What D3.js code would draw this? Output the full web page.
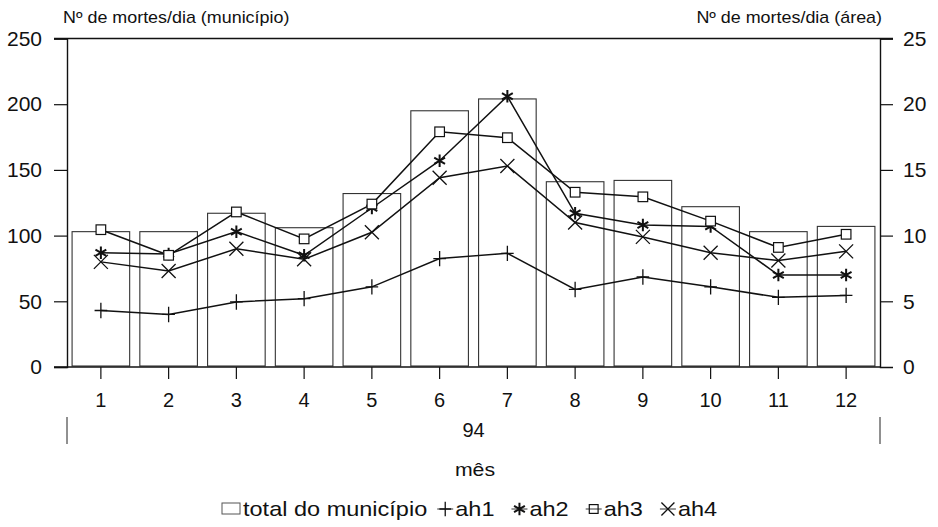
<!DOCTYPE html>
<html>
<head>
<meta charset="utf-8">
<script src="https://cdn.jsdelivr.net/npm/d3@7"></script>
<style>
  html, body { margin: 0; padding: 0; background: #fff; }
  svg { display: block; font-family: "Liberation Sans", Arial, Helvetica, sans-serif; }
</style>
</head>
<body>
<svg id="chart" width="938" height="527"></svg>
<script>
// ---- data ----
const months = ["1","2","3","4","5","6","7","8","9","10","11","12"];
const yearLabel = "94";
const totalMunicipio = [103, 103, 117, 106, 132, 195, 204, 141, 142, 122, 103, 107];
const ah1 = [4.3, 4.0, 4.95, 5.2, 6.1, 8.25, 8.65, 5.9, 6.85, 6.1, 5.3, 5.45];
const ah2 = [8.7, 8.6, 10.3, 8.5, 12.1, 15.7, 20.6, 11.7, 10.8, 10.7, 7.0, 7.0];
const ah3 = [10.45, 8.5, 11.8, 9.75, 12.4, 17.9, 17.45, 13.3, 12.95, 11.1, 9.1, 10.1];
const ah4 = [8.0, 7.3, 9.0, 8.2, 10.25, 14.4, 15.3, 11.0, 9.9, 8.7, 8.1, 8.8];
const leftTicks = [0, 50, 100, 150, 200, 250];
const rightTicks = [0, 5, 10, 15, 20, 25];
const seriesNames = ["ah1", "ah2", "ah3", "ah4"];
const barLegend = "total do município";
const leftTitle = "Nº de mortes/dia (município)";
const rightTitle = "Nº de mortes/dia (área)";
const xTitle = "mês";

// ---- layout ----
const svg = d3.select("#chart");
const L = 67, R = 880, B = 367, T = 38.5;
const STRETCH = 1.12;

const x = d3.scaleBand().domain(months).range([L, R]).paddingInner(0.15).paddingOuter(0.075);
const yL = d3.scaleLinear().domain([0, 250]).range([B, T]);
const yR = d3.scaleLinear().domain([0, 25]).range([B, T]);

function stext(g, px, py, str, size, anchor) {
  return g.append("text")
    .attr("transform", `translate(${px},${py}) scale(${STRETCH},1)`)
    .attr("text-anchor", anchor || "start")
    .attr("font-size", size)
    .attr("fill", "#111")
    .text(str);
}

// ---- bars ----
svg.append("g").selectAll("rect").data(months).join("rect")
  .attr("x", d => x(d))
  .attr("width", x.bandwidth())
  .attr("y", (d, i) => yL(totalMunicipio[i]))
  .attr("height", (d, i) => yL(0) - 1 - yL(totalMunicipio[i]))
  .attr("fill", "#fff")
  .attr("stroke", "#333")
  .attr("stroke-width", 1.1);

// ---- frame lines ----
svg.append("line").attr("x1", 54).attr("x2", 893).attr("y1", T).attr("y2", T)
  .attr("stroke", "#111").attr("stroke-width", 1.4);

// ---- left axis ----
const gL = svg.append("g").attr("transform", `translate(${L},0)`)
  .call(d3.axisLeft(yL).tickValues(leftTicks).tickSize(13).tickPadding(12));
gL.select(".domain").attr("stroke", "#111").attr("stroke-width", 1.4);
gL.selectAll(".tick line").attr("stroke", "#111").attr("stroke-width", 1.2);
gL.selectAll(".tick text").attr("font-size", 21).attr("fill", "#111")
  .attr("font-family", "Liberation Sans, Arial, sans-serif");

// ---- right axis ----
const gR = svg.append("g").attr("transform", `translate(${R},0)`)
  .call(d3.axisRight(yR).tickValues(rightTicks).tickSize(13).tickPadding(10));
gR.select(".domain").attr("stroke", "#111").attr("stroke-width", 1.4);
gR.selectAll(".tick line").attr("stroke", "#111").attr("stroke-width", 1.2)
  .attr("stroke-dasharray", d => d === 0 ? "2,2" : null);
gR.selectAll(".tick text").attr("font-size", 21).attr("fill", "#111")
  .attr("font-family", "Liberation Sans, Arial, sans-serif");

// ---- bottom axis ----
const gB = svg.append("g").attr("transform", `translate(0,${B})`)
  .call(d3.axisBottom(x).tickSize(12).tickPadding(14));
gB.select(".domain").remove();
gB.selectAll(".tick line").attr("stroke", "#111").attr("stroke-width", 1.2);
gB.selectAll(".tick text").attr("font-size", 20).attr("fill", "#111")
  .attr("font-family", "Liberation Sans, Arial, sans-serif");
svg.append("line").attr("x1", 54).attr("x2", R).attr("y1", B).attr("y2", B)
  .attr("stroke", "#111").attr("stroke-width", 1.4);

// year group
svg.append("line").attr("x1", L).attr("x2", L).attr("y1", 417).attr("y2", 444)
  .attr("stroke", "#222").attr("stroke-width", 1);
svg.append("line").attr("x1", R).attr("x2", R).attr("y1", 417).attr("y2", 444)
  .attr("stroke", "#222").attr("stroke-width", 1);
svg.append("text").attr("x", (L + R) / 2).attr("y", 437).attr("text-anchor", "middle")
  .attr("font-size", 20).attr("fill", "#111").text(yearLabel);

// axis titles
stext(svg, 475, 476, xTitle, 19, "middle");
stext(svg, 63, 23, leftTitle, 16, "start");
stext(svg, 882, 23, rightTitle, 16, "end");

// ---- markers ----
const markers = {
  ah1: (g, s) => g.append("path").attr("d", `M${-s*0.45},0H${s*0.45}M0,${-s*0.55}V${s*0.55}`)
    .attr("stroke", "#111").attr("stroke-width", 1.3).attr("fill", "none"),
  ah2: (g, s) => {
    const r = s * 0.48; let d = "";
    for (let k = 0; k < 3; k++) {
      const a = Math.PI / 2 + k * Math.PI / 3;
      d += `M${r*Math.cos(a)},${-r*Math.sin(a)}L${-r*Math.cos(a)},${r*Math.sin(a)}`;
    }
    g.append("path").attr("d", d).attr("stroke", "#111").attr("stroke-width", 2).attr("fill", "none");
  },
  ah3: (g, s, fill) => g.append("rect").attr("x", -s*0.4).attr("y", -s*0.4).attr("width", s*0.8).attr("height", s*0.8)
    .attr("fill", fill || "#fff").attr("stroke", "#111").attr("stroke-width", 1.2),
  ah4: (g, s) => g.append("path").attr("d", `M${-s*0.5},${-s*0.5}L${s*0.5},${s*0.5}M${s*0.5},${-s*0.5}L${-s*0.5},${s*0.5}`)
    .attr("stroke", "#111").attr("stroke-width", 1.3).attr("fill", "none")
};
const markerSize = { ah1: 14, ah2: 13, ah3: 12, ah4: 14 };

const seriesData = { ah1, ah2, ah3, ah4 };
const line = d3.line().x(d => x(d.m) + x.bandwidth() / 2).y(d => yR(d.v));

seriesNames.forEach(name => {
  const pts = months.map((m, i) => ({ m, v: seriesData[name][i] }));
  svg.append("path").datum(pts).attr("d", line)
    .attr("fill", "none").attr("stroke", "#111").attr("stroke-width", 1.5);
});
seriesNames.forEach(name => {
  const pts = months.map((m, i) => ({ m, v: seriesData[name][i] }));
  pts.forEach(p => {
    const g = svg.append("g").attr("transform", `translate(${x(p.m) + x.bandwidth() / 2},${yR(p.v)})`);
    markers[name](g, markerSize[name]);
  });
});

// ---- legend ----
const lg = svg.append("g");
const ly = 516, lcy = 509;
let lx = 222;
lg.append("rect").attr("x", lx).attr("y", 503).attr("width", 18).attr("height", 11)
  .attr("fill", "#fff").attr("stroke", "#555").attr("stroke-width", 1);
let t = stext(lg, lx + 21, ly, barLegend, 21, "start");
lx = lx + 21 + t.node().getComputedTextLength() * STRETCH + 10;
seriesNames.forEach(name => {
  lg.append("line").attr("x1", lx).attr("x2", lx + 16).attr("y1", lcy).attr("y2", lcy)
    .attr("stroke", "#333").attr("stroke-width", 1);
  const g = lg.append("g").attr("transform", `translate(${lx + 8},${lcy})`);
  markers[name](g, name === "ah3" ? 11 : 13, "none");
  const tt = stext(lg, lx + 18, ly, name, 21, "start");
  lx = lx + 18 + tt.node().getComputedTextLength() * STRETCH + 17;
});
</script>
</body>
</html>
